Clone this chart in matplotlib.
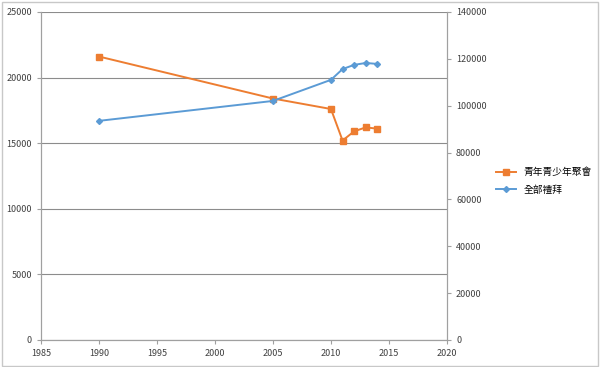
import matplotlib.pyplot as plt
from matplotlib.patches import Rectangle

plt.rcParams['font.family'] = ['Noto Sans CJK TC', 'DejaVu Sans']

years = [1990, 2005, 2010, 2011, 2012, 2013, 2014]
youth = [21600, 18400, 17600, 15200, 15900, 16200, 16100]
worship = [93500, 102000, 111000, 115600, 117400, 118200, 117800]

fig = plt.figure(figsize=(6, 3.67), dpi=100)
ax = fig.add_axes([0.068, 0.0736, 0.677, 0.894])
ax2 = ax.twinx()

grid_c = '#8c8c8c'
text_c = '#404040'

l1, = ax.plot(years, youth, color='#ED7D31', marker='s', markersize=4.5,
              linewidth=1.4, label='青年青少年聚會')
l2, = ax2.plot(years, worship, color='#5B9BD5', marker='D', markersize=3,
               linewidth=1.4, label='全部禮拜')

ax.set_xlim(1985, 2020)
ax.set_ylim(0, 25000)
ax.set_xticks(range(1985, 2021, 5))
ax.set_yticks(range(0, 25001, 5000))
ax2.set_ylim(0, 140000)
ax2.set_yticks(range(0, 140001, 20000))

ax.yaxis.grid(True, color=grid_c, linewidth=0.8)
ax.set_axisbelow(True)

for a in (ax, ax2):
    a.spines['top'].set_visible(False)
    for s in ('left', 'right', 'bottom'):
        a.spines[s].set_color('#a0a0a0')
    a.tick_params(labelsize=6.5, colors=text_c, length=3, width=0.8)
    a.tick_params(color='#a0a0a0')

ax.legend(handles=[l1, l2], loc='center left', bbox_to_anchor=(1.1, 0.485),
          frameon=False, fontsize=7, handlelength=2, labelspacing=0.8)

fig.patches.append(Rectangle((0.003, 0.004), 0.993, 0.99, transform=fig.transFigure,
                             fill=False, edgecolor='#c8c8c8', linewidth=1))

fig.savefig('out.png', dpi=100)
